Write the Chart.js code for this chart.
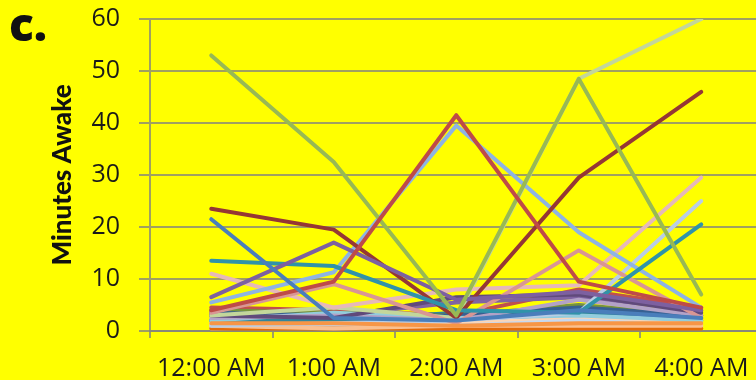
<!DOCTYPE html>
<html>
<head>
<meta charset="utf-8">
<script src="https://cdn.jsdelivr.net/npm/chart.js@4.4.1/dist/chart.umd.min.js"></script>
<style>
  html, body { margin: 0; padding: 0; background: #ffff00; overflow: hidden; width: 756px; height: 380px; }
  #wrap { position: relative; width: 800px; height: 380px; }
  #chart { position: absolute; left: 0; top: -15px; }
  #panel { position: absolute; left: 9px; top: -8px; font: 800 46px "Open Sans", sans-serif; color: #111; }
</style>
</head>
<body>
<div id="wrap">
  <canvas id="chart" width="800" height="395"></canvas>
  <div id="panel">c.</div>
</div>
<script>
// Hourly wake minutes for each subject
const hours = ['12:00 AM', '1:00 AM', '2:00 AM', '3:00 AM', '4:00 AM'];

const s01 = [21.5, 2.5, 2, 4, 2.5];
const s02 = [4, 9.5, 41.5, 9.5, 4.5];
const s03 = [53, 32.5, 3, 48.5, 7];
const s04 = [6.5, 17, 6, 7.5, 4];
const s05 = [13.5, 12.5, 4, 3.5, 20.5];
const s06 = [1.5, 1.5, 1, 1.5, 1.5];
const s07 = [23.5, 19.5, 2.5, 29.5, 46];
const s08 = [5.5, 11.3, 39.5, 19, 4.5];
const s09 = [3.5, 9, 1.5, 15.5, 2.5];
const s10 = [11, 4.5, 8, 8.8, 29.5];
const s11 = [1, 1.5, 2, 3.5, 25];
const s12 = [3, 4.5, 2.5, 48.5, 60];
const s13 = [3, 2.5, 6.5, 7, 3.5];
const s14 = [2.5, 3, 2, 6, 3];
const s15 = [2, 3.5, 2.5, 3, 2];
const s16 = [1, 0.5, 1, 1, 1];
const s17 = [3.5, 3, 3, 4.5, 3];
const s18 = [4, 3.5, 3, 5, 3];
const s19 = [2, 2, 3.5, 3.5, 2];
const s20 = [0.5, 0.5, 0.5, 0.5, 0.5];
const s21 = [3, 3, 5.5, 6.5, 4];
const s22 = [4.5, 4, 3, 8, 4.5];
const s23 = [0.5, 1, 1, 2, 1];
const s24 = [1.5, 1, 1.5, 2.5, 1.5];
const s25 = [2, 1.5, 2, 2.5, 2.5];
const s26 = [1.5, 2, 2, 5, 2];

const seriesValues = [s01, s02, s03, s04, s05, s06, s07, s08, s09, s10, s11, s12, s13,
                      s14, s15, s16, s17, s18, s19, s20, s21, s22, s23, s24, s25, s26];

const seriesColors = ['#4a7ebb', '#be4b48', '#98b954', '#7d60a0', '#3093a9', '#f79646',
                      '#953735', '#8eb4e3', '#d99694', '#e6b9b8', '#b9cde5', '#c3d69b',
                      '#604a7b', '#b3a2c7', '#93cddd', '#fac090', '#376092', '#77933c',
                      '#31859c', '#e46c0a', '#8064a2', '#c0504d', '#c6d9f1', '#fcd5b5',
                      '#4bacc6', '#ccc1da'];

const gridColor = 'rgba(128,128,128,0.75)';
const textColor = '#1a1a1a';

const paintBackground = {
  id: 'paintBackground',
  beforeDraw(chart) {
    const ctx = chart.ctx;
    ctx.save();
    ctx.fillStyle = '#ffff00';
    ctx.fillRect(0, 0, chart.width, chart.height);
    ctx.restore();
  }
};

new Chart(document.getElementById('chart'), {
  type: 'line',
  data: {
    labels: hours,
    datasets: seriesValues.map((values, i) => ({
      label: 'Subject ' + (i + 1),
      data: values,
      borderColor: seriesColors[i],
      backgroundColor: seriesColors[i],
      borderWidth: 4,
      pointRadius: 0,
      tension: 0,
      fill: false,
      borderJoinStyle: 'round',
      borderCapStyle: 'round'
    }))
  },
  options: {
    responsive: false,
    animation: false,
    events: [],
    layout: { padding: { top: 3, right: 37.5, bottom: 0, left: 0 } },
    plugins: { legend: { display: false }, tooltip: { enabled: false } },
    scales: {
      x: {
        type: 'category',
        offset: true,
        grid: { offset: true, drawOnChartArea: false, drawTicks: true, tickLength: 7, color: gridColor, lineWidth: 2 },
        border: { display: true, color: gridColor, width: 2 },
        ticks: { color: textColor, font: { family: 'Open Sans', size: 25, weight: '500' }, padding: 16, maxRotation: 0, autoSkip: false },
        afterFit(scale) { scale.height = 49; }
      },
      y: {
        min: 0,
        max: 60,
        ticks: { stepSize: 10, color: textColor, font: { family: 'Open Sans', size: 25, weight: '500' }, padding: 19 },
        grid: { color: gridColor, lineWidth: 2, tickLength: 11 },
        border: { display: true, color: gridColor, width: 2 },
        title: {
          display: true,
          text: 'Minutes Awake',
          color: '#111',
          font: { family: 'Lato', size: 26, weight: '900' },
          padding: { top: 47, bottom: 0 }
        },
        afterFit(scale) { scale.width = 150; }
      }
    }
  },
  plugins: [paintBackground]
});
</script>
</body>
</html>
